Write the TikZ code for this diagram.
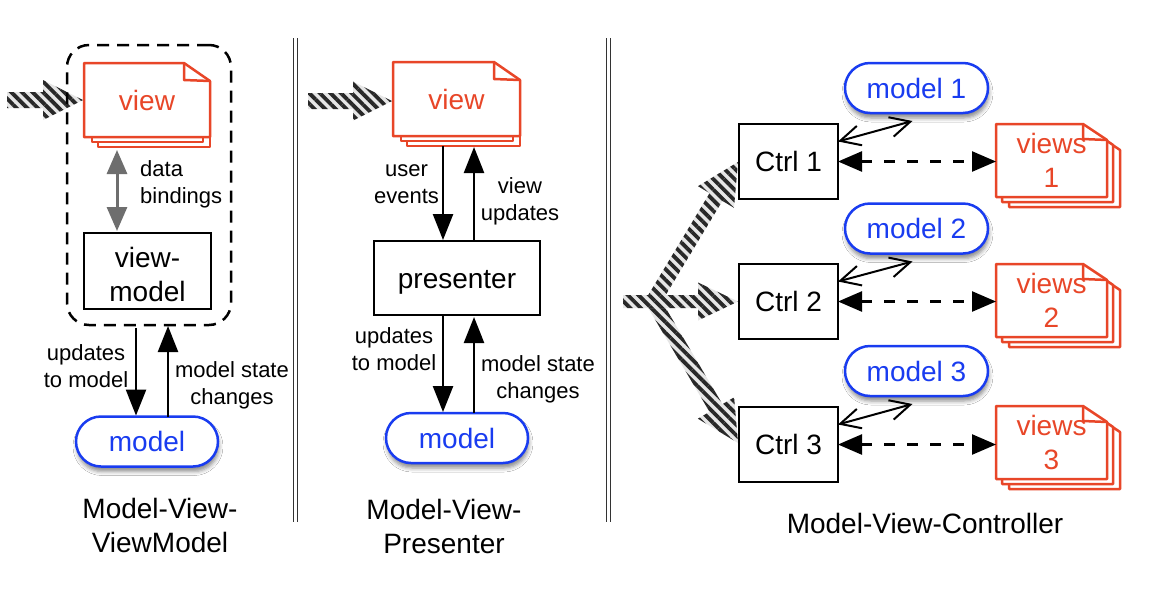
\documentclass[tikz,border=0pt]{standalone}
\usepackage{fontspec}
\setmainfont{Liberation Sans}
\usetikzlibrary{arrows.meta,calc,shapes.misc,patterns.meta,backgrounds,shadows.blur}
\definecolor{docred}{RGB}{232,70,40}
\definecolor{modblue}{RGB}{25,60,240}
\definecolor{bindgray}{RGB}{110,110,110}
\definecolor{stripebg}{RGB}{230,230,230}
\definecolor{stripefg}{RGB}{40,40,40}
\newcommand\nodefont{\fontsize{28}{34}\selectfont}
\newcommand\labfont{\fontsize{22}{27}\selectfont}
\newcommand\lowertext[2]{\raisebox{-#1}[\height][\depth]{#2}}
\tikzset{
  box/.style={draw, line width=2.5pt, fill=white, inner sep=0pt, outer sep=0pt, font=\nodefont, align=center},
  pill/.style={rounded rectangle, draw=modblue, line width=2.5pt, fill=white, text=modblue, font=\nodefont,
    inner sep=0pt, outer sep=0pt, minimum height=50pt, minimum width=142pt,
    blur shadow={shadow xshift=1pt, shadow yshift=-5pt, shadow blur radius=4pt, shadow opacity=45}},
  doc/.style={inner sep=0pt, outer sep=0pt, text=docred, font=\nodefont, align=center},
  docline/.style={draw=docred, line width=2.5pt, line join=round},
  lab/.style={font=\labfont, align=center, inner sep=0pt},
  ttl/.style={font=\nodefont, align=center, inner sep=0pt},
  flow/.style={line width=2.5pt, -{Triangle[length=26pt,width=20pt]}},
  bind/.style={draw=bindgray, line width=3pt, {Triangle[length=24pt,width=20pt]}-{Triangle[length=24pt,width=20pt]}},
  dashlink/.style={line width=2.5pt, dash pattern=on 11pt off 12pt, {Triangle[length=24pt,width=20pt]}-{Triangle[length=24pt,width=20pt]}},
  modlink/.style={line width=2pt, {Straight Barb[length=20pt,width=20pt]}-{Straight Barb[length=20pt,width=20pt]}},
  container/.style={draw, line width=2.5pt, dash pattern=on 12pt off 8pt, rounded corners=22pt, inner sep=0pt, outer sep=0pt},
  striped/.style={preaction={fill=stripebg}, pattern={Lines[angle=-45,distance=7.5pt,line width=3.8pt]}, pattern color=stripefg},
  sepline/.style={line width=1.2pt, black!80}
}
\newcommand\docshape[6]{%
  \path[#1] ([shift={(#3,#4)}]#2.north west) -- ([shift={(#3-#5,#4)}]#2.north east) -- ([shift={(#3,#4+#6)}]#2.north east) -- ([shift={(#3,#4)}]#2.south east) -- ([shift={(#3,#4)}]#2.south west) -- cycle;}
\newcommand\docfold[3]{%
  \draw[docline] ([shift={(-#2,0)}]#1.north east) -- ([shift={(-#2,#3-1)}]#1.north east) -- ([shift={(0,#3)}]#1.north east);}
\newcommand\stripearrow[5]{%
  \path[striped] ($(#1)!#4!90:(#2)$) -- ($(#2)!#4!-90:(#1)$) -- ($(#2)!#5!-90:(#1)$) -- (#3) -- ($(#2)!#5!90:(#1)$) -- ($(#2)!#4!90:(#1)$) -- ($(#1)!#4!-90:(#2)$) -- cycle;}
\begin{document}
\begin{tikzpicture}[x=1pt,y=-1pt]
\useasboundingbox (0,0) rectangle (1154,590);
% ---------------- MVVM
\node[container, minimum width=164pt, minimum height=280pt] (cont) at (149,185) {};
\node[doc, minimum width=126pt, minimum height=74pt] (v1) at (147,100) {view};
\node[box, minimum width=127pt, minimum height=76pt] (vm) at (147.5,271) {\lowertext{3.5pt}{view-}\\\lowertext{3.5pt}{model}};
\node[pill] (mm1) at (147,441.5) {model};
\node[lab, anchor=west, align=left] (lbind) at (140,184) {data\\bindings};
\node[lab] (lupd1) at (86,366) {updates\\to model};
\node[lab] (lms1) at (232,385) {model state\\changes};
\node[ttl] (t1) at (160,525) {Model-View-\\ViewModel};
% ---------------- MVP
\node[doc, minimum width=127pt, minimum height=74pt] (v2) at (456.5,99) {view};
\node[box, minimum width=166pt, minimum height=74pt] (pr) at (457,278) {\lowertext{4pt}{presenter}};
\node[pill] (mm2) at (457,438) {model};
\node[lab] (lue) at (406.5,184.5) {user\\events};
\node[lab] (lvu) at (520,201.5) {view\\updates};
\node[lab] (lupd2) at (394,349) {updates\\to model};
\node[lab] (lms2) at (538,379.5) {model state\\changes};
\node[ttl] (t2) at (444,526) {Model-View-\\Presenter};
% ---------------- MVC
\node[box, minimum width=99pt, minimum height=75pt] (c1) at (788.5,161.5) {Ctrl 1};
\node[box, minimum width=99pt, minimum height=75pt] (c2) at (788.5,301.5) {Ctrl 2};
\node[box, minimum width=99pt, minimum height=75pt] (c3) at (788.5,444.5) {Ctrl 3};
\node[pill, minimum width=143pt] (m1) at (916.5,88) {model 1};
\node[pill, minimum width=143pt] (m2) at (916.5,228.5) {model 2};
\node[pill, minimum width=143pt] (m3) at (916.5,371) {model 3};
\node[doc, minimum width=111pt, minimum height=73pt] (w1) at (1051.5,160.5) {views\\1};
\node[doc, minimum width=111pt, minimum height=73pt] (w2) at (1051.5,300.5) {views\\2};
\node[doc, minimum width=111pt, minimum height=73pt] (w3) at (1051.5,442.5) {views\\3};
\node[ttl] (t3) at (925,523) {Model-View-Controller};
% coordinates for striped arrows
\coordinate (sa1) at (7,100);   \coordinate (sb1) at (43,100);  \coordinate (st1) at ($(v1.west)+(-1,0)$);
\coordinate (sa2) at (308,101); \coordinate (sb2) at (353,101); \coordinate (st2) at ($(v2.west)+(-1,2)$);
\coordinate (sam) at (623,301.5); \coordinate (sbm) at (698,301.5); \coordinate (stm) at ($(c2.west)+(-1,0)$);
\coordinate (sat) at (654,300); \coordinate (sbt) at (716,197); \coordinate (stt) at ($(c1.west)+(-1,0.5)$);
\coordinate (sab) at (654,303); \coordinate (sbb) at (716,408); \coordinate (stb) at ($(c3.west)+(-1,-1.5)$);
\begin{pgfonlayer}{background}
  \fill[white] (0,0) rectangle (1154,590);
  \stripearrow{sa1}{sb1}{st1}{8pt}{20pt}
  \stripearrow{sa2}{sb2}{st2}{8pt}{19.5pt}
  \stripearrow{sat}{sbt}{stt}{7.5pt}{21pt}
  \stripearrow{sab}{sbb}{stb}{7.5pt}{21pt}
  \stripearrow{sam}{sbm}{stm}{6.5pt}{19pt}
  % single view stacks (only the lower parts show)
  \path[docline, fill=white] ([shift={(14,-30)}]v1.south west) rectangle ([shift={(0,10)}]v1.south east);
  \path[docline, fill=white] ([shift={(8,-30)}]v1.south west) rectangle ([shift={(-7,5)}]v1.south east);
  \docshape{fill=white}{v1}{0}{0}{26}{18}
  \path[docline, fill=white] ([shift={(14,-30)}]v2.south west) rectangle ([shift={(0,10)}]v2.south east);
  \path[docline, fill=white] ([shift={(8,-30)}]v2.south west) rectangle ([shift={(-7,5)}]v2.south east);
  \docshape{fill=white}{v2}{0}{0}{26}{18}
  % views stacks
  \docshape{docline,fill=white}{w1}{13}{10}{24}{16}
  \docshape{docline,fill=white}{w1}{6}{5}{24}{16}
  \docshape{fill=white}{w1}{0}{0}{24}{16}
  \docshape{docline,fill=white}{w2}{13}{10}{24}{16}
  \docshape{docline,fill=white}{w2}{6}{5}{24}{16}
  \docshape{fill=white}{w2}{0}{0}{24}{16}
  \docshape{docline,fill=white}{w3}{13}{10}{24}{16}
  \docshape{docline,fill=white}{w3}{6}{5}{24}{16}
  \docshape{fill=white}{w3}{0}{0}{24}{16}
\end{pgfonlayer}
\docshape{docline}{v1}{0}{0}{26}{18}\docfold{v1}{26}{18}
\docshape{docline}{v2}{0}{0}{26}{18}\docfold{v2}{26}{18}
\docshape{docline}{w1}{0}{0}{24}{16}\docfold{w1}{24}{16}
\docshape{docline}{w2}{0}{0}{24}{16}\docfold{w2}{24}{16}
\docshape{docline}{w3}{0}{0}{24}{16}\docfold{w3}{24}{16}
% separators
\draw[sepline] (293.5,38) -- (293.5,522);
\draw[sepline] (297.5,38) -- (297.5,522);
\draw[sepline] (606.5,38) -- (606.5,522);
\draw[sepline] (610.5,38) -- (610.5,522);
% MVVM connectors
\draw[bind] ($(v1.south)+(-30,13)$) -- ($(vm.north)+(-30.5,-2)$);
\draw[flow] ($(cont.south)+(-13,3)$) -- ($(mm1.north)+(-11,-1)$);
\draw[flow] ($(mm1.north)+(21,0)$) -- ($(cont.south)+(19,1)$);
% MVP connectors
\draw[flow] ($(v2.south)+(-13.5,10)$) -- ($(pr.north)+(-14,-1)$);
\draw[flow] ($(pr.north)+(17,0)$) -- ($(v2.south)+(17.5,11)$);
\draw[flow] ($(pr.south)+(-14,0)$) -- ($(mm2.north)+(-14,-1)$);
\draw[flow] ($(mm2.north)+(17,0)$) -- ($(pr.south)+(17,2)$);
% MVC connectors
\draw[modlink] ($(c1.east)+(0,-20)$) -- ($(m1.south)+(-4,8)$);
\draw[modlink] ($(c2.east)+(0,-20)$) -- ($(m2.south)+(-4,8)$);
\draw[modlink] ($(c3.east)+(0,-20)$) -- ($(m3.south)+(-4,8)$);
\draw[dashlink] (c1.east) -- (c1.east -| w1.west);
\draw[dashlink] (c2.east) -- (c2.east -| w2.west);
\draw[dashlink] (c3.east) -- (c3.east -| w3.west);
\end{tikzpicture}
\end{document}
